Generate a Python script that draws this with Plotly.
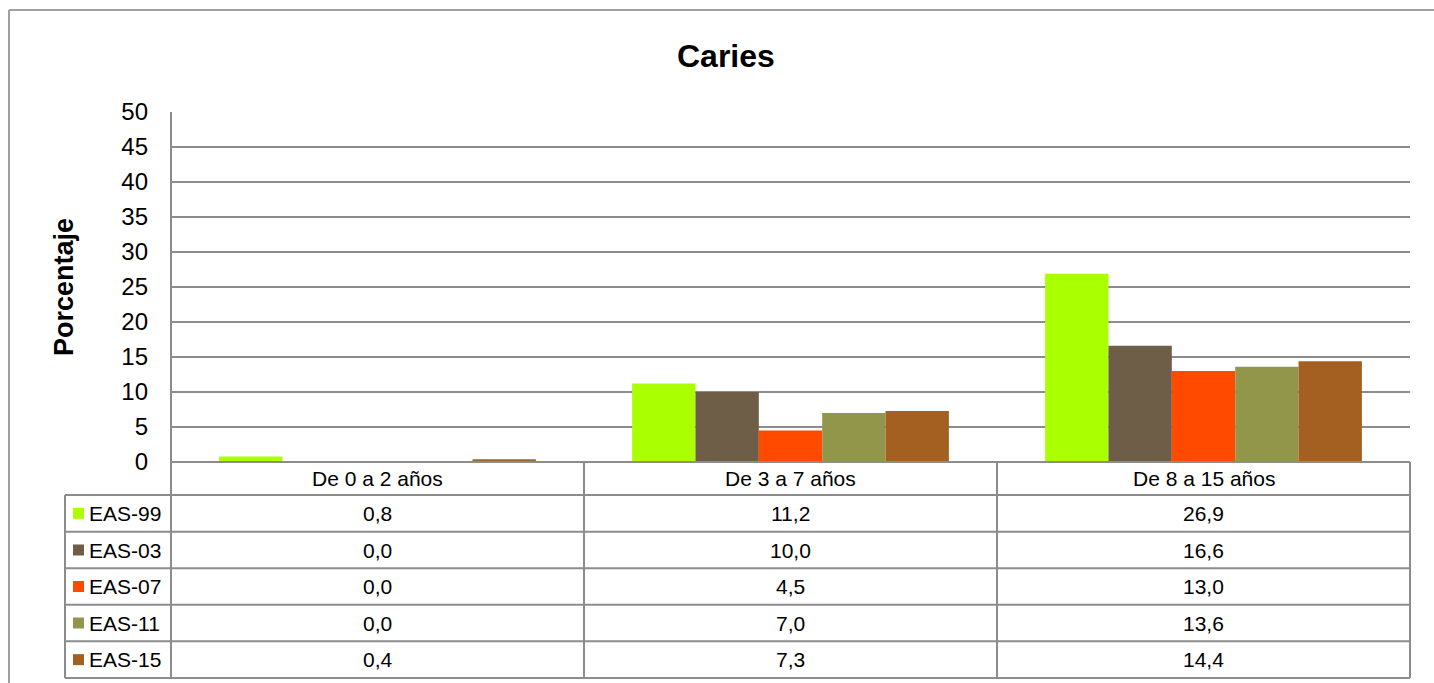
import plotly.graph_objects as go

W, H = 1434, 683

categories = ["De 0 a 2 años", "De 3 a 7 años", "De 8 a 15 años"]
series_names = ["EAS-99", "EAS-03", "EAS-07", "EAS-11", "EAS-15"]
eas99 = [0.8, 11.2, 26.9]
eas03 = [0.0, 10.0, 16.6]
eas07 = [0.0, 4.5, 13.0]
eas11 = [0.0, 7.0, 13.6]
eas15 = [0.4, 7.3, 14.4]
series_values = [eas99, eas03, eas07, eas11, eas15]
colors = ["#AAFF00", "#6E5E48", "#FF4A00", "#92964A", "#A46020"]
y_ticks = [0, 5, 10, 15, 20, 25, 30, 35, 40, 45, 50]

# layout in pixels
PL, PR, PT, PB = 171, 1410, 112, 462
row_lines = [462, 495, 531.7, 568.3, 604.7, 641.3, 678]
col_lines = [171, 584, 997, 1410]
LEFT_COL = 65
GRID = "#8c8c8c"
FONT = "Liberation Sans, Arial, sans-serif"


def px(x):
    return x / W


def py(y):
    return 1 - y / H


fig = go.Figure()
for name, vals, c in zip(series_names, series_values, colors):
    fig.add_trace(go.Bar(x=categories, y=vals, name=name, marker=dict(color=c, line=dict(width=0)),
                         showlegend=False))

shapes = []
annotations = []


def line(x0, y0, x1, y1, color=GRID, width=2):
    shapes.append(dict(type="line", xref="paper", yref="paper", x0=px(x0), y0=py(y0), x1=px(x1), y1=py(y1),
                       line=dict(color=color, width=width), layer="above"))


# outer chart border
line(9, 10, W + 5, 10, "#a0a0a0", 2)
line(9, 10, 9, H + 5, "#a0a0a0", 2)

# plot left axis line extending through table
line(PL, PT, PL, row_lines[-1])
# table horizontal lines
line(PL, row_lines[0], PR, row_lines[0])
for yl in row_lines[1:]:
    line(LEFT_COL, yl, PR, yl)
# table vertical lines
line(LEFT_COL, row_lines[1], LEFT_COL, row_lines[-1])
for xc in col_lines[1:]:
    line(xc, row_lines[0], xc, row_lines[-1])

TFS = 21
# header texts
for i, cat in enumerate(categories):
    annotations.append(dict(xref="paper", yref="paper", x=px((col_lines[i] + col_lines[i + 1]) / 2),
                            y=py((row_lines[0] + row_lines[1]) / 2), text=cat, showarrow=False,
                            font=dict(family=FONT, size=TFS, color="black"), xanchor="center", yanchor="middle"))

# rows
for r, (name, vals, c) in enumerate(zip(series_names, series_values, colors)):
    yc = (row_lines[r + 1] + row_lines[r + 2]) / 2
    shapes.append(dict(type="rect", xref="paper", yref="paper", x0=px(73), x1=px(84), y0=py(yc - 5.5),
                       y1=py(yc + 5.5), fillcolor=c, line=dict(width=0)))
    annotations.append(dict(xref="paper", yref="paper", x=px(87), y=py(yc), text=name, showarrow=False,
                            font=dict(family=FONT, size=TFS, color="black"), xanchor="left", yanchor="middle"))
    for i, v in enumerate(vals):
        annotations.append(dict(xref="paper", yref="paper", x=px((col_lines[i] + col_lines[i + 1]) / 2),
                                y=py(yc), text=f"{v:.1f}".replace(".", ","), showarrow=False,
                                font=dict(family=FONT, size=TFS, color="black"), xanchor="center",
                                yanchor="middle"))

# title and axis title
annotations.append(dict(xref="paper", yref="paper", x=px(726), y=py(56), text="<b>Caries</b>", showarrow=False,
                        font=dict(family=FONT, size=32, color="black"), xanchor="center", yanchor="middle"))
annotations.append(dict(xref="paper", yref="paper", x=px(64), y=py(287), text="<b>Porcentaje</b>",
                        showarrow=False, textangle=-90,
                        font=dict(family=FONT, size=27, color="black"), xanchor="center", yanchor="middle"))

fig.update_layout(
    width=W, height=H, autosize=False,
    margin=dict(l=0, r=0, t=0, b=0, pad=0, autoexpand=False),
    paper_bgcolor="white", plot_bgcolor="white",
    barmode="group", bargap=0.233, bargroupgap=0,
    shapes=shapes, annotations=annotations,
    xaxis=dict(domain=[px(PL), px(PR)], showticklabels=False, showgrid=False, zeroline=False,
               range=[-0.5, 2.5], fixedrange=True, automargin=False),
    yaxis=dict(domain=[py(PB), py(PT)], range=[0, 50], tickvals=y_ticks, showgrid=True, gridcolor=GRID,
               gridwidth=2, zeroline=False, showline=False, automargin=False,
               tickfont=dict(family=FONT, size=24, color="black"), ticklabelstandoff=22,
               fixedrange=True),
)

fig.write_html("out.html", config={"displayModeBar": False},
               post_script="document.body.style.margin='0';document.body.style.overflow='hidden';")
